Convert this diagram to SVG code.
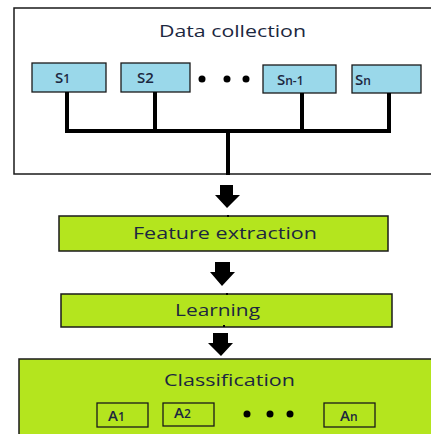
<svg xmlns="http://www.w3.org/2000/svg" width="431" height="434" viewBox="0 0 431 434">
<style>
.frame{fill:#ffffff;stroke:#1a1a1a;stroke-width:1.5}
.sensor{fill:#9ad8ea;stroke:#1a1a1a;stroke-width:1.3}
.stage{fill:#b4e51e;stroke:#1a1a1a;stroke-width:1.5}
.alg{fill:#b4e51e;stroke:#1a1a1a;stroke-width:1.3}
.lbl{font-family:"Open Sans","DejaVu Sans","Liberation Sans",sans-serif;fill:#1c2740}
.big{font-size:17px}
.sm{font-size:15px;font-weight:600}
.bus{fill:none;stroke:#000;stroke-width:4;stroke-linecap:square}
.arr{fill:#000}
.dot{fill:#000}
</style>
<g id="data-collection">
<rect class="frame" x="14" y="8" width="440" height="166"/>
<text class="lbl big" x="232.5" y="37" text-anchor="middle" textLength="147" lengthAdjust="spacingAndGlyphs">Data collection</text>
</g>
<g id="s1"><rect class="sensor" x="32" y="63" width="74" height="29"/><text class="lbl sm" x="55" y="83">S<tspan font-size="12">1</tspan></text></g>
<g id="s2"><rect class="sensor" x="121" y="63" width="69" height="29"/><text class="lbl sm" x="137" y="83">S2</text></g>
<g id="dots-s"><circle class="dot" cx="202" cy="79" r="3.5"/><circle class="dot" cx="227" cy="79" r="3.5"/><circle class="dot" cx="246" cy="79" r="3.5"/></g>
<g id="sn-1"><rect class="sensor" x="263" y="65" width="73" height="28"/><text class="lbl sm" x="277" y="85">S<tspan font-size="12">n-1</tspan></text></g>
<g id="sn"><rect class="sensor" x="352" y="65" width="69" height="28"/><text class="lbl sm" x="355" y="85">S<tspan font-size="12">n</tspan></text></g>
<g id="feature-extraction">
<rect class="stage" x="59" y="216" width="329" height="35"/>
<text class="lbl big" x="225" y="239" text-anchor="middle" textLength="184" lengthAdjust="spacingAndGlyphs">Feature extraction</text>
</g>
<g id="learning">
<rect class="stage" x="61" y="294" width="331" height="33"/>
<text class="lbl big" x="217.5" y="316" text-anchor="middle" textLength="85" lengthAdjust="spacingAndGlyphs">Learning</text>
</g>
<g id="classification">
<rect class="stage" x="19" y="359" width="440" height="90"/>
<text class="lbl big" x="229.5" y="386" text-anchor="middle" textLength="131" lengthAdjust="spacingAndGlyphs">Classification</text>
</g>
<g id="a1"><rect class="alg" x="97" y="403" width="51" height="24"/><text class="lbl sm" x="108" y="421">A<tspan font-size="12">1</tspan></text></g>
<g id="a2"><rect class="alg" x="163" y="403" width="51" height="23"/><text class="lbl sm" x="174" y="418">A<tspan font-size="12">2</tspan></text></g>
<g id="dots-a"><circle class="dot" cx="247" cy="414" r="3.5"/><circle class="dot" cx="270" cy="414" r="3.5"/><circle class="dot" cx="290" cy="414" r="3.5"/></g>
<g id="an"><rect class="alg" x="324" y="403" width="51" height="24"/><text class="lbl sm" x="340" y="421">A<tspan font-size="12">n</tspan></text></g>
<g id="connectors">
<path class="bus" d="M67 94 V131 M155 94 V131 M302 95 V131 M389 95 V131 M67 131 H389 M228 131 V173"/>
<polygon class="arr" points="220,185 233,185 233,195 240,195 227,208 215,195 220,195"/>
<polygon class="arr" points="215,262 230,262 230,272 235,272 222,286 210,272 215,272"/>
<polygon class="arr" points="213,333 228,333 228,343 233,343 221,356 208,343 213,343"/>
<rect class="dot" x="227" y="215" width="2" height="2"/>
<rect class="dot" x="226" y="293" width="2" height="2"/>
<rect class="dot" x="223" y="325" width="2" height="2"/>
</g>
</svg>
